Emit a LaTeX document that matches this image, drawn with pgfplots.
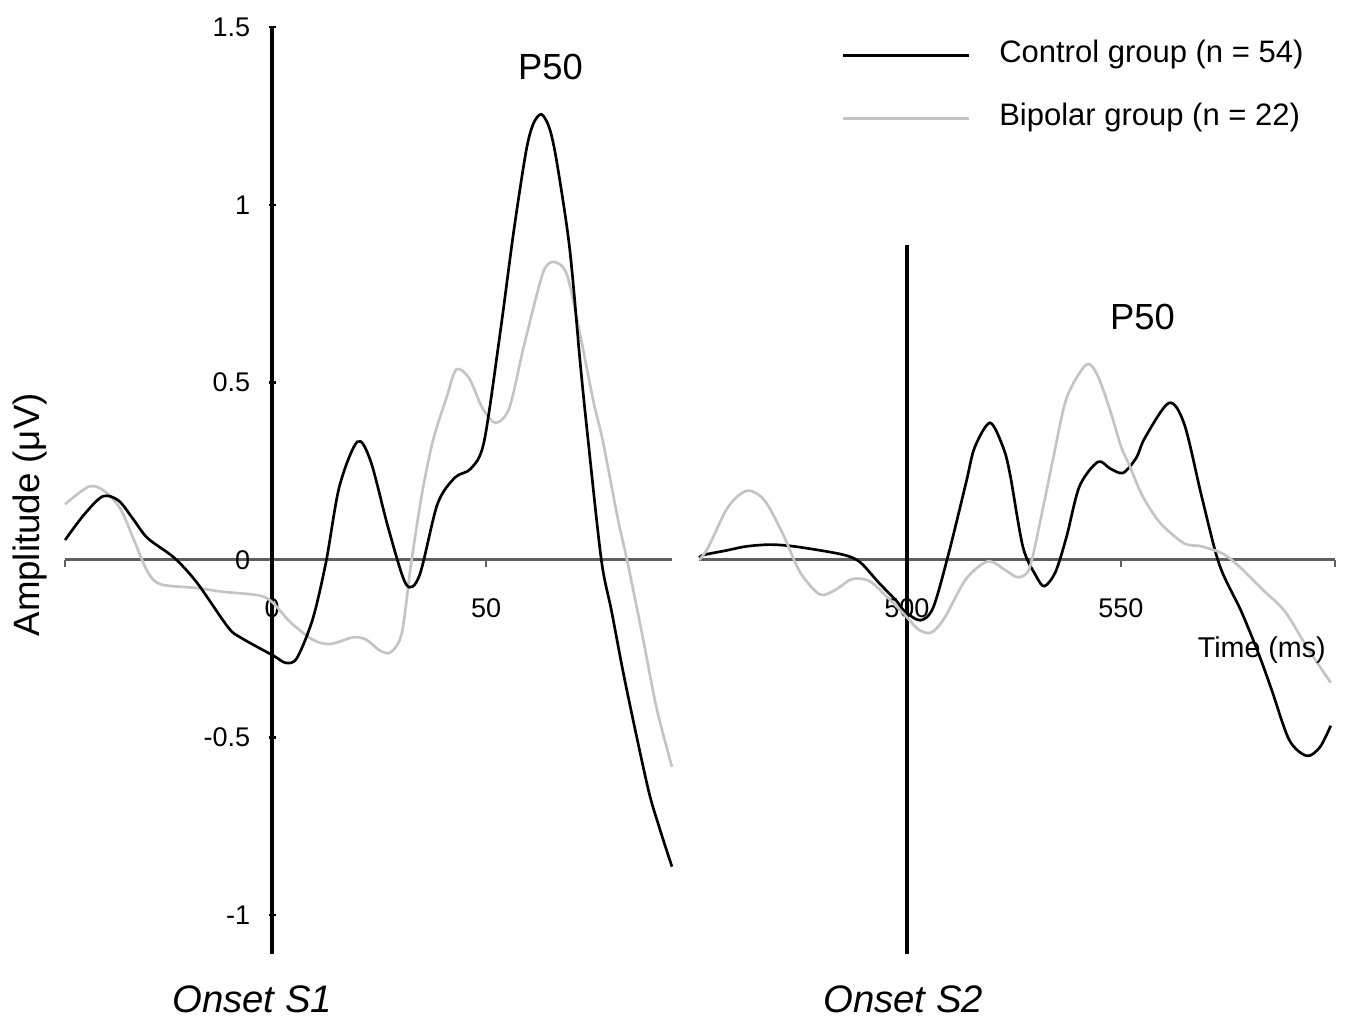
\documentclass[border=0pt]{standalone}
\usepackage{fontspec}
\setmainfont{Liberation Sans}
\usepackage{pgfplots}
\pgfplotsset{compat=1.18}
\definecolor{bipolar}{RGB}{196,196,196}
\definecolor{axgray}{RGB}{95,95,95}

\pgfplotsset{
  erp/.style={
    scale only axis,
    anchor=south west,
    height=278pt,
    ymin=-1.11, ymax=1.5,
    clip=false,
    axis x line=middle,
    x axis line style={-, draw=axgray, line width=0.9pt},
    tick align=outside,
    major tick length=2.2pt,
    xtick style={axgray, line width=0.7pt},
    xticklabel style={font=\fontsize{8.1}{9}\selectfont, yshift=-6pt},
    yticklabel style={font=\fontsize{8.1}{9}\selectfont, xshift=-2pt},
    /pgf/number format/assume math mode=true,
  },
  ctrl/.style={black, line width=0.8pt, smooth, tension=0.5},
  bip/.style={bipolar, line width=0.8pt, smooth, tension=0.5},
}

\begin{document}
\begin{tikzpicture}
\useasboundingbox (0,0) rectangle (403.5pt,307.2pt);

% stimulus S1
\begin{axis}[erp, at={(19.4pt,21pt)}, width=182.3pt,
  xmin=-48.5, xmax=93.5,
  axis y line=middle,
  y axis line style={-, draw=black, line width=1.3pt},
  xtick={-48.5,0,50}, xticklabels={,0,50},
  ytick={-1,-0.5,0,0.5,1,1.5}, yticklabels={-1,-0.5,0,0.5,1,1.5},
  ytick style={black, line width=0.7pt},
  hide obscured x ticks=false, hide obscured y ticks=false,
]
\addplot[bip] coordinates {
  (-48.4,0.157) (-42.7,0.207) (-39.0,0.192) (-35.4,0.142) (-32.3,0.056)
  (-29.1,-0.034) (-26.0,-0.069) (-17.7,-0.079) (-11.4,-0.09) (-3.1,-0.1)
  (0.1,-0.12) (4.2,-0.175) (9.5,-0.225) (13.6,-0.237) (18.9,-0.218)
  (22.0,-0.225) (25.1,-0.255) (27.7,-0.26) (30.3,-0.205) (32.4,-0.014)
  (35.0,0.187) (37.6,0.338) (40.7,0.456) (43.0,0.536) (46.0,0.512)
  (49.1,0.428) (52.2,0.386) (55.4,0.428) (58.5,0.587) (61.6,0.737)
  (63.7,0.821) (66.0,0.839) (68.9,0.802) (72.1,0.625) (75.2,0.438)
  (77.2,0.338) (80.8,0.113) (82.9,0.0) (86.7,-0.225) (89.8,-0.417)
  (93.4,-0.583)
};
\addplot[ctrl] coordinates {
  (-48.4,0.056) (-44.0,0.127) (-39.6,0.179) (-35.9,0.167) (-32.5,0.115)
  (-29.1,0.061) (-22.9,0.006) (-17.6,-0.064) (-10.3,-0.19) (-7.2,-0.22)
  (0.3,-0.27) (3.2,-0.29) (5.8,-0.276) (9.5,-0.165) (12.6,-0.004)
  (15.7,0.207) (19.9,0.333) (23.0,0.278) (27.2,0.086) (31.3,-0.069)
  (34.4,-0.044) (38.6,0.157) (42.7,0.232) (46.4,0.257) (49.5,0.333)
  (53.3,0.643) (56.4,0.923) (59.3,1.15) (61.0,1.228) (62.9,1.255)
  (64.8,1.215) (66.5,1.12) (69.5,0.877) (72.0,0.55) (73.8,0.338)
  (76.9,0.0) (79.3,-0.145) (82.5,-0.346) (87.7,-0.638) (90.3,-0.748)
  (93.4,-0.864)
};
\node[anchor=base, font=\fontsize{10.9}{12}\selectfont] at (axis cs:65,1.353) {P50};
\node[rotate=90, font=\fontsize{11}{13}\selectfont] at (axis cs:-56.6,0.127) {Amplitude (μV)};
\node[anchor=base, font=\itshape\fontsize{11.5}{13}\selectfont] at (axis cs:-4.7,-1.275) {Onset S1};
\end{axis}

% stimulus S2
\begin{axis}[erp, at={(209.8pt,21pt)}, width=190.7pt,
  xmin=451.5, xmax=600,
  axis y line=none, ytick=\empty,
  xtick={500,550,600}, xticklabels={500,550,},
  legend style={at={(axis cs:484.5,1.332)}, anchor=west, draw=none, fill=none,
    font=\fontsize{9.3}{11}\selectfont, inner sep=0pt, row sep=5.7pt,
    nodes={inner sep=2pt, text depth=0.25em}},
  legend cell align=left,
  legend image code/.code={\draw[#1] (0pt,0pt) -- (37.8pt,0pt); \path (44.6pt,0pt);},
]
\addplot[black, line width=1.3pt, forget plot] coordinates {(500,-1.11) (500,0.888)};
\addplot[ctrl] coordinates {
  (451.5,0.006) (452.5,0.014) (457.6,0.026) (462.5,0.038) (467.9,0.043)
  (473.0,0.039) (481.1,0.024) (486.2,0.011) (489.3,-0.009) (493.4,-0.064)
  (497.5,-0.115) (499.5,-0.145) (503.1,-0.17) (506.1,-0.135) (509.7,0.016)
  (513.8,0.217) (515.8,0.316) (519.4,0.386) (522.5,0.316) (524.1,0.24)
  (527.1,0.036) (530.1,-0.044) (532.1,-0.074) (534.7,-0.034) (537.3,0.066)
  (540.3,0.207) (544.6,0.276) (547.5,0.257) (550.5,0.245) (553.6,0.288)
  (555.6,0.344) (561.2,0.442) (564.8,0.382) (568.9,0.176) (573.0,-0.014)
  (578.1,-0.145) (582.2,-0.266) (585.2,-0.366) (589.3,-0.507) (593.4,-0.552)
  (596.5,-0.527) (599.0,-0.467)
};
\addlegendentry{Control group (n = 54)}
\addplot[bip] coordinates {
  (451.5,0.0) (453.6,0.036) (457.6,0.137) (460.5,0.18) (463.3,0.195)
  (466.8,0.167) (470.9,0.076) (475.0,-0.034) (479.6,-0.097) (483.2,-0.085)
  (487.2,-0.054) (491.3,-0.06) (495.4,-0.105) (499.5,-0.155) (502.6,-0.195)
  (505.6,-0.205) (508.7,-0.165) (513.8,-0.054) (518.9,-0.004) (523.0,-0.029)
  (526.0,-0.049) (528.6,-0.024) (531.1,0.107) (534.2,0.288) (537.3,0.456)
  (541.9,0.55) (544.5,0.52) (547.5,0.42) (550.0,0.32) (552.1,0.263)
  (554.6,0.19) (557.0,0.14) (559.7,0.097) (564.8,0.046) (568.9,0.038)
  (574.0,0.016) (578.1,-0.024) (583.2,-0.085) (588.3,-0.145) (593.4,-0.245)
  (599.0,-0.346)
};
\addlegendentry{Bipolar group (n = 22)}
\node[anchor=base, font=\fontsize{10.9}{12}\selectfont] at (axis cs:555,0.648) {P50};
\node[anchor=base, font=\fontsize{8.6}{10}\selectfont] at (axis cs:582.9,-0.276) {Time (ms)};
\node[anchor=base, font=\itshape\fontsize{11.5}{13}\selectfont] at (axis cs:499.1,-1.275) {Onset S2};
\end{axis}
\end{tikzpicture}
\end{document}
